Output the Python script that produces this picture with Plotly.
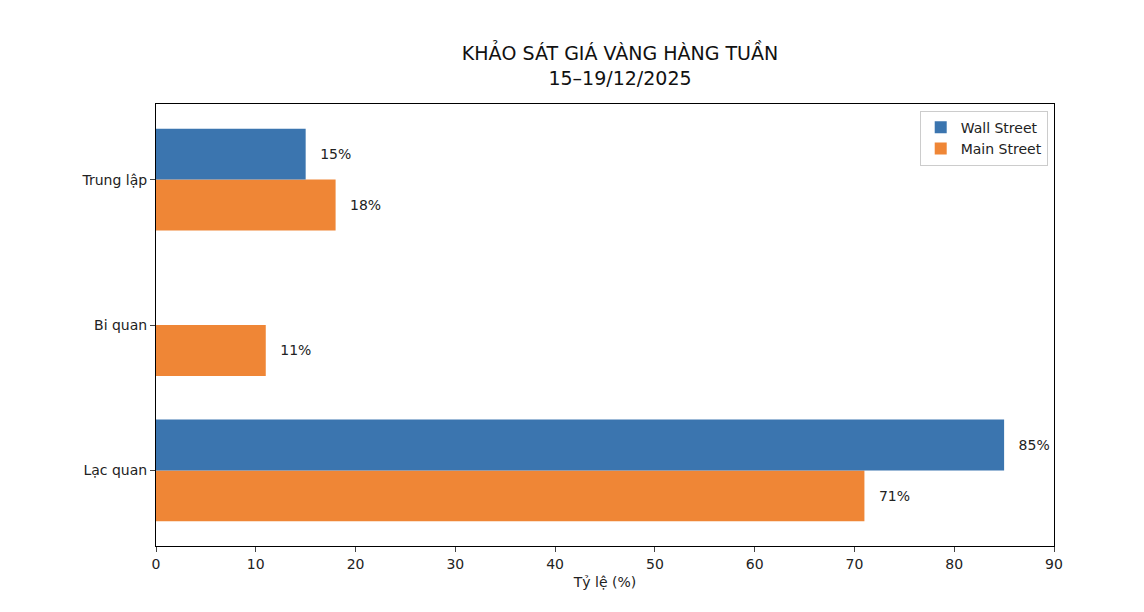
import plotly.graph_objects as go

categories = ["Lạc quan", "Bi quan", "Trung lập"]
wall_street = [85, 0, 15]
main_street = [71, 11, 18]
x_ticks = [0, 10, 20, 30, 40, 50, 60, 70, 80, 90]

def lbl(vals):
    return [f"\u2002 {v}%" if v > 0 else "" for v in vals]

font = dict(family="DejaVu Sans", size=14, color="#222")
fig = go.Figure()
fig.add_trace(go.Bar(y=categories, x=main_street, orientation="h", name="Main Street",
                     marker=dict(color="#ef8636", line=dict(width=0)), text=lbl(main_street),
                     textposition="outside", textfont=font, cliponaxis=False, legendrank=2))
fig.add_trace(go.Bar(y=categories, x=wall_street, orientation="h", name="Wall Street",
                     marker=dict(color="#3b75af", line=dict(width=0)), text=lbl(wall_street),
                     textposition="outside", textfont=font, cliponaxis=False, legendrank=1))
fig.update_layout(
    width=1144, height=612, barmode="group", bargap=0.3, bargroupgap=0,
    plot_bgcolor="white", paper_bgcolor="white", font=font,
    margin=dict(l=148, r=98, t=96, b=74),
    title=dict(text="KHẢO SÁT GIÁ VÀNG HÀNG TUẦN<br>15–19/12/2025", x=0.535, xanchor="center",
               y=0.915, yanchor="top", font=dict(family="DejaVu Sans", size=19, color="#111")),
    xaxis=dict(range=[0, 90], tickvals=x_ticks, showgrid=False, zeroline=False,
               showline=True, linecolor="black", mirror=True, ticks="outside", ticklen=5,
               title=dict(text="Tỷ lệ (%)", font=font, standoff=6)),
    yaxis=dict(categoryorder="array", categoryarray=categories, range=[-0.52, 2.52],
               showgrid=False, zeroline=False, showline=True, linecolor="black", mirror=True,
               ticks="outside", ticklen=5),
    legend=dict(x=0.993, y=0.985, xanchor="right", yanchor="top", bordercolor="#ccc",
                borderwidth=1, bgcolor="white", traceorder="normal", font=font),
)
fig.write_html("out.html")
